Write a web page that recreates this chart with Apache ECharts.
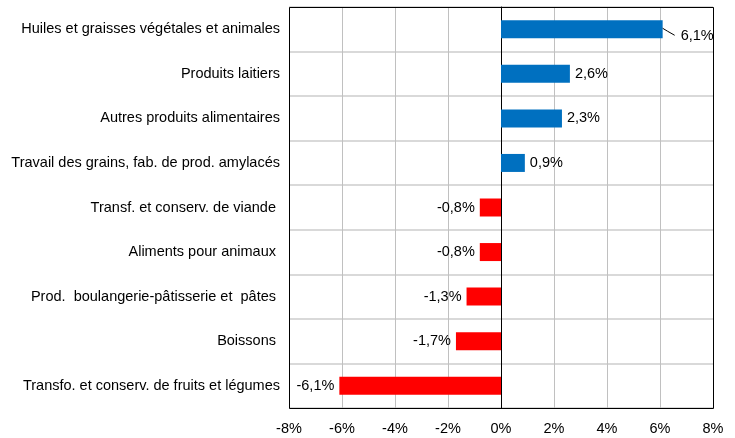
<!DOCTYPE html>
<html>
<head>
<meta charset="utf-8">
<script src="https://cdn.jsdelivr.net/npm/echarts@6/dist/echarts.min.js"></script>
<style>
html,body{margin:0;padding:0;background:#fff;}
#c{width:735px;height:438px;}
</style>
</head>
<body>
<div id="c"></div>
<script>
var categories = [
  "Huiles et graisses végétales et animales",
  "Produits laitiers",
  "Autres produits alimentaires",
  "Travail des grains, fab. de prod. amylacés",
  "Transf. et conserv. de viande ",
  "Aliments pour animaux ",
  "Prod.  boulangerie-pâtisserie et  pâtes ",
  "Boissons ",
  "Transfo. et conserv. de fruits et légumes"
];
var values = [6.1, 2.6, 2.3, 0.9, -0.8, -0.8, -1.3, -1.7, -6.1];
var xTicks = [-8, -6, -4, -2, 0, 2, 4, 6, 8];

var POS = '#0070C0', NEG = '#FF0000';
var FONT = 'Liberation Sans, Arial, sans-serif';
var FS = 14.5;

var data = values.map(function (v, i) {
  var item = {
    value: v,
    itemStyle: { color: v >= 0 ? POS : NEG },
    label: { position: v >= 0 ? 'right' : 'left' }
  };
  if (i === 0) {
    item.label = { position: 'right', offset: [13, 7] };
  }
  return item;
});

var chart = echarts.init(document.getElementById('c'), null, { renderer: 'canvas' });
chart.setOption({
  animation: false,
  backgroundColor: '#fff',
  grid: { left: 289, right: 22, top: 7, bottom: 30 },
  xAxis: {
    type: 'value',
    min: xTicks[0], max: xTicks[xTicks.length - 1], interval: 2,
    axisLine: { show: false },
    axisTick: { show: false },
    axisLabel: {
      formatter: function (v) { return v + '%'; },
      color: '#000', fontFamily: FONT, fontSize: FS, margin: 13
    },
    splitLine: { show: true, lineStyle: { color: '#c0c0c0', width: 1 } }
  },
  yAxis: {
    type: 'category',
    data: categories,
    inverse: true,
    axisLine: { show: true, onZero: true, lineStyle: { color: '#000', width: 1 } },
    axisTick: { show: false },
    axisLabel: { color: '#000', fontFamily: FONT, fontSize: FS, margin: 9 },
    splitLine: { show: true, lineStyle: { color: '#d9d9d9', width: 2 } }
  },
  series: [{
    type: 'bar',
    data: data,
    barWidth: 18,
    label: {
      show: true,
      color: '#000',
      fontFamily: FONT,
      fontSize: FS,
      distance: 5,
      formatter: function (p) { return p.value.toFixed(1).replace('.', ',') + '%'; }
    }
  }]
});

// plot-area border and leader line, positioned via the library's scales
var ptL = chart.convertToPixel({ xAxisIndex: 0, yAxisIndex: 0 }, [xTicks[0], 0]);
var ptR = chart.convertToPixel({ xAxisIndex: 0, yAxisIndex: 0 }, [xTicks[xTicks.length - 1], categories.length - 1]);
var bandH = (ptR[1] - ptL[1]) / (categories.length - 1);
var yTop = Math.round(ptL[1] - bandH / 2), yBot = Math.round(ptR[1] + bandH / 2);
var p0 = chart.convertToPixel({ xAxisIndex: 0, yAxisIndex: 0 }, [values[0], 0]);
chart.setOption({
  graphic: [{
    type: 'rect',
    shape: { x: Math.round(ptL[0]) + 0.5, y: yTop + 0.5, width: Math.round(ptR[0] - ptL[0]), height: yBot - yTop },
    style: { stroke: '#000', lineWidth: 1, fill: 'none' },
    z: 100, silent: true
  }, {
    type: 'polyline',
    shape: { points: [[p0[0], p0[1] - 1], [p0[0] + 5, p0[1] + 2], [p0[0] + 12, p0[1] + 6]] },
    style: { stroke: '#000', lineWidth: 1, fill: null },
    z: 100, silent: true
  }]
});
</script>
</body>
</html>
